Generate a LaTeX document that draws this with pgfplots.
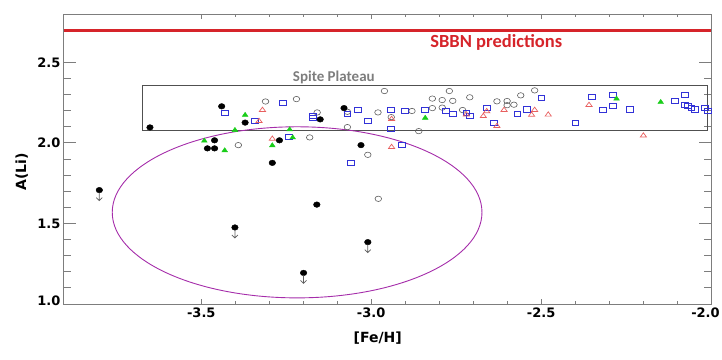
\documentclass[border=0pt]{standalone}
\usepackage{fontspec}
\setmainfont{DejaVu Sans}
\newfontfamily\carlito{Carlito}
\usepackage{pgfplots}
\pgfplotsset{compat=1.18}

\definecolor{sbbn}{RGB}{214,36,42}
\definecolor{axgray}{RGB}{125,125,125}
\definecolor{boxgray}{RGB}{80,80,80}
\definecolor{ellcol}{RGB}{165,45,170}
\definecolor{opengray}{RGB}{95,95,95}
\definecolor{sqblue}{RGB}{50,50,215}
\definecolor{trired}{RGB}{232,95,95}
\definecolor{trigreen}{RGB}{25,205,25}

% little downward arrow under an upper limit
\pgfdeclareplotmark{ularrow}{%
  \pgfpathmoveto{\pgfpoint{0pt}{-2.5pt}}\pgfpathlineto{\pgfpoint{0pt}{-10.5pt}}%
  \pgfpathmoveto{\pgfpoint{-3pt}{-7.5pt}}\pgfpathlineto{\pgfpoint{0pt}{-10.5pt}}%
  \pgfpathlineto{\pgfpoint{3pt}{-7.5pt}}%
  \pgfusepathqstroke}

\begin{document}
\begin{tikzpicture}
\begin{axis}[
  scale only axis, width=647pt, height=290pt,
  xmin=-3.904, xmax=-2.0, ymin=1.0, ymax=2.8,
  xtick={-3.5,-3.0,-2.5,-2.0}, ytick={1.0,1.5,2.0,2.5},
  xticklabels={-3.5,-3.0,-2.5,\hspace*{-11pt}-2.0},
  yticklabels={\raisebox{6pt}{1.0},1.5,2.0,2.5},
  minor x tick num=4, minor y tick num=4,
  axis line style={axgray, line width=1pt},
  tick style={axgray, line width=0.9pt},
  major tick length=12pt, minor tick length=7.5pt,
  xtick style={/pgfplots/major tick length=5pt, /pgfplots/minor tick length=3pt},
  ticklabel style={font=\fontsize{13}{15}\selectfont\bfseries},
  clip=false,
]
% SBBN line and plateau box, ellipse
\addplot[sbbn, line width=3.2pt] coordinates {(-3.904,2.70) (-2.0,2.70)};
\draw[boxgray, line width=0.8pt] (axis cs:-3.674,2.08) rectangle (axis cs:-2.01,2.355);
\draw[ellcol, line width=0.9pt] (axis cs:-3.218,1.569) ellipse [x radius=0.544, y radius=0.531];
\node[anchor=base, text=sbbn, font=\carlito\fontsize{18.5}{20}\selectfont\bfseries] at (axis cs:-2.632,2.589) {SBBN predictions};
\node[anchor=base, text=axgray, font=\carlito\fontsize{15}{17}\selectfont\bfseries] at (axis cs:-3.110,2.384) {Spite Plateau};

% gray open circles
\addplot[only marks, mark=o, mark size=3.3pt, mark options={opengray, line width=0.6pt, yscale=0.82}] coordinates {
(-3.311,2.257) (-3.391,1.986) (-3.220,2.272) (-3.159,2.189) (-3.181,2.034)
(-3.070,2.098) (-3.070,2.193) (-2.980,2.189) (-2.961,2.322) (-2.941,2.160)
(-2.880,2.198) (-3.010,1.926) (-2.860,2.073) (-2.979,1.653) (-2.820,2.275)
(-2.791,2.266) (-2.770,2.322) (-2.760,2.261) (-2.710,2.283) (-2.820,2.216)
(-2.791,2.219) (-2.731,2.204) (-2.630,2.258) (-2.600,2.260) (-2.600,2.234)
(-2.580,2.237) (-2.560,2.295) (-2.519,2.326)
};
% blue open squares
\addplot[only marks, mark=square, mark size=3.4pt, mark options={sqblue, line width=0.75pt, yscale=0.75}] coordinates {
(-3.431,2.187) (-3.343,2.137) (-3.260,2.248) (-3.171,2.170) (-3.171,2.153)
(-3.242,2.036) (-3.070,2.182) (-3.040,2.206) (-3.010,2.135) (-3.060,1.875)
(-2.941,2.207) (-2.941,2.089) (-2.910,1.986) (-2.900,2.199) (-2.841,2.207)
(-2.780,2.198) (-2.760,2.178) (-2.720,2.188) (-2.710,2.168) (-2.660,2.216)
(-2.640,2.126) (-2.570,2.178) (-2.541,2.208) (-2.499,2.277) (-2.399,2.125)
(-2.350,2.288) (-2.319,2.207) (-2.289,2.297) (-2.289,2.227) (-2.239,2.208)
(-2.107,2.258) (-2.078,2.297) (-2.078,2.237) (-2.068,2.229) (-2.058,2.215)
(-2.048,2.208) (-2.019,2.218) (-2.010,2.198)
};
% red open triangles
\addplot[only marks, mark=triangle, mark size=3.6pt, mark options={trired, line width=0.7pt, yscale=0.8}] coordinates {
(-3.320,2.204) (-3.330,2.135) (-3.291,2.025) (-2.940,2.148) (-2.940,1.974)
(-2.720,2.176) (-2.670,2.166) (-2.660,2.196) (-2.609,2.204) (-2.630,2.104)
(-2.528,2.174) (-2.519,2.204) (-2.479,2.175) (-2.359,2.235) (-2.199,2.045)
};
% green filled triangles
\addplot[only marks, mark=triangle*, mark size=3.3pt, mark options={trigreen, fill=trigreen, yscale=0.85}] coordinates {
(-3.371,2.173) (-3.401,2.079) (-3.491,2.013) (-3.431,1.953) (-3.291,1.984)
(-3.240,2.083) (-3.231,2.033) (-2.841,2.155) (-2.278,2.274) (-2.148,2.253)
};
% black filled circles
\addplot[only marks, mark=*, mark size=3.3pt, mark options={black, fill=black, yscale=0.85}] coordinates {
(-3.651,2.096) (-3.440,2.227) (-3.371,2.126) (-3.461,2.016) (-3.482,1.966)
(-3.461,1.966) (-3.270,2.016) (-3.291,1.876) (-3.150,2.146) (-3.080,2.216)
(-3.030,1.986) (-3.160,1.617)
};
% black upper limits
\addplot[only marks, mark=*, mark size=3.3pt, mark options={black, fill=black, yscale=0.85}] coordinates {
(-3.800,1.707) (-3.401,1.475) (-3.199,1.193) (-3.010,1.384)
};
\addplot[only marks, mark=ularrow, mark options={opengray, line width=0.7pt}] coordinates {
(-3.800,1.707) (-3.401,1.475) (-3.199,1.193) (-3.010,1.384)
};

\node[font=\fontsize{14}{16}\selectfont\bfseries] at ([yshift=-34pt]rel axis cs:0.485,0) {[Fe/H]};
\node[font=\fontsize{14}{16}\selectfont\bfseries, rotate=90] at ([xshift=-42.3pt]rel axis cs:0,0.456) {A(Li)};
\end{axis}
\pgfresetboundingbox
\path[use as bounding box] ([xshift=-64pt,yshift=-55pt]current axis.south west) rectangle ([xshift=11pt,yshift=14pt]current axis.north east);
\end{tikzpicture}
\end{document}
